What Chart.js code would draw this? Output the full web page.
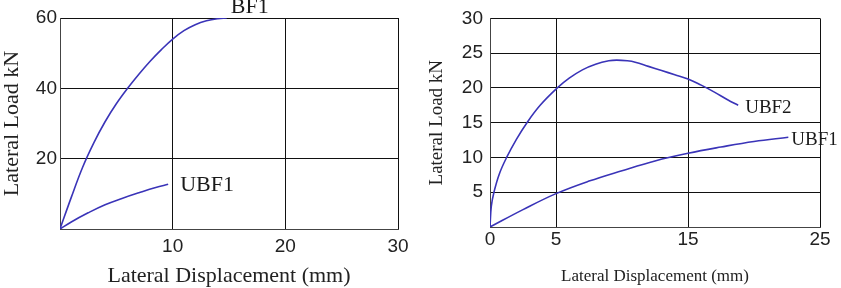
<!DOCTYPE html>
<html>
<head>
<meta charset="utf-8">
<script src="https://cdn.jsdelivr.net/npm/chart.js@4.4.0/dist/chart.umd.min.js"></script>
<style>
  body { margin: 0; background: #fff; }
  canvas { position: absolute; top: 0; }
</style>
</head>
<body>
<canvas id="left" width="420" height="288" style="left:0"></canvas>
<canvas id="right" width="421" height="288" style="left:420px"></canvas>
<script>
// left panel
var bf1X = [0, 1, 2, 3, 4, 5, 6, 7, 8, 9, 10, 11, 12, 13, 14, 14.8];
var bf1Y = [0, 9, 17.5, 24.5, 30.5, 35.6, 40, 44, 47.7, 51, 54, 56.4, 58.1, 59.2, 59.8, 60];
var ubf1aX = [0, 1, 2.5, 4, 5.5, 7, 8.5, 9.6];
var ubf1aY = [0, 2, 4.6, 6.9, 8.7, 10.3, 11.8, 12.7];
// right panel
var ubf2X = [0, 0.1, 0.3, 0.7, 1.26, 2, 2.8, 3.8, 5.1, 6, 7, 8, 9, 9.6, 10.4, 11, 12, 13, 14, 15, 16, 17, 18, 18.8];
var ubf2Y = [0, 3, 5, 7.6, 10, 12.6, 15, 17.5, 20, 21.4, 22.6, 23.4, 23.9, 24, 23.9, 23.7, 23.1, 22.5, 21.9, 21.3, 20.4, 19.4, 18.3, 17.5];
var ubf1bX = [0, 2.5, 5, 7.5, 10, 12.5, 15, 17.5, 20, 22.6];
var ubf1bY = [0, 2.5, 4.8, 6.6, 8.1, 9.5, 10.6, 11.5, 12.3, 12.9];
var rightXTicks = [0, 5, 15, 25];

var LINE = '#3a34b8';
var GRID = '#111';
var SERIF = '"Liberation Serif", "Times New Roman", serif';
var SANS = '"Liberation Sans", Arial, sans-serif';

function pts(xs, ys) {
  return xs.map(function (x, i) { return { x: x, y: ys[i] }; });
}

function series(label, xs, ys) {
  return {
    label: label,
    data: pts(xs, ys),
    borderColor: LINE,
    borderWidth: 1.6,
    pointRadius: 0,
    fill: false,
    tension: 0.4
  };
}

// writes the series name next to the end of each curve
var seriesLabels = {
  id: 'seriesLabels',
  afterDatasetsDraw: function (chart, args, opts) {
    var ctx = chart.ctx;
    opts.items.forEach(function (it) {
      var meta = chart.getDatasetMeta(it.index);
      var pt = meta.data[meta.data.length - 1];
      ctx.save();
      ctx.font = it.size + 'px ' + SERIF;
      ctx.fillStyle = '#1a1a1a';
      ctx.textBaseline = 'middle';
      ctx.fillText(chart.data.datasets[it.index].label, pt.x + it.dx, pt.y + it.dy);
      ctx.restore();
    });
  }
};

Chart.defaults.color = '#222';

new Chart(document.getElementById('left'), {
  type: 'line',
  data: {
    datasets: [series('BF1', bf1X, bf1Y), series('UBF1', ubf1aX, ubf1aY)]
  },
  plugins: [seriesLabels],
  options: {
    responsive: false,
    animation: false,
    devicePixelRatio: 1,
    layout: { padding: { top: 18, right: 22, left: 0, bottom: 0 } },
    plugins: {
      legend: { display: false },
      tooltip: { enabled: false },
      seriesLabels: {
        items: [
          { index: 0, dx: 4, dy: -11, size: 22 },
          { index: 1, dx: 12, dy: 1, size: 22 }
        ]
      }
    },
    scales: {
      x: {
        type: 'linear',
        min: 0, max: 30,
        afterFit: function (s) { s.height = 59; },
        grid: { color: GRID, drawTicks: false },
        border: { color: '#444' },
        ticks: {
          stepSize: 10, padding: 6, maxRotation: 0,
          font: { family: SANS, size: 19 },
          callback: function (v) { return v === 0 ? '' : v; }
        },
        title: {
          display: true, text: 'Lateral Displacement (mm)',
          font: { family: SERIF, size: 22, lineHeight: 1.1 },
          padding: 0
        }
      },
      y: {
        min: 0, max: 60,
        afterFit: function (s) { s.width = 60; },
        grid: { color: GRID, drawTicks: false },
        border: { color: '#444' },
        ticks: {
          stepSize: 20, padding: 3,
          font: { family: SANS, size: 19 },
          callback: function (v) { return v === 0 ? '' : v; }
        },
        title: {
          display: true, text: 'Lateral Load kN',
          font: { family: SERIF, size: 22, lineHeight: 1.1 },
          padding: 0
        }
      }
    }
  }
});

new Chart(document.getElementById('right'), {
  type: 'line',
  data: {
    datasets: [series('UBF2', ubf2X, ubf2Y), series('UBF1', ubf1bX, ubf1bY)]
  },
  plugins: [seriesLabels],
  options: {
    responsive: false,
    animation: false,
    devicePixelRatio: 1,
    layout: { padding: { top: 9, right: 21, left: 0, bottom: 0 } },
    plugins: {
      legend: { display: false },
      tooltip: { enabled: false },
      seriesLabels: {
        items: [
          { index: 0, dx: 7, dy: 3, size: 19 },
          { index: 1, dx: 3, dy: 3, size: 19 }
        ]
      }
    },
    scales: {
      x: {
        type: 'linear',
        min: 0, max: 25,
        afterBuildTicks: function (s) {
          s.ticks = rightXTicks.map(function (v) { return { value: v }; });
        },
        afterFit: function (s) { s.height = 61; },
        grid: { color: GRID, drawTicks: false },
        border: { color: '#444' },
        ticks: {
          padding: 1, maxRotation: 0, autoSkip: false,
          font: { family: SANS, size: 19 }
        },
        title: {
          display: true, text: 'Lateral Displacement (mm)',
          font: { family: SERIF, size: 17, lineHeight: 1.2 },
          padding: { top: 0, bottom: 1 }
        }
      },
      y: {
        min: 0, max: 30,
        afterFit: function (s) { s.width = 70; },
        grid: { color: GRID, drawTicks: false },
        border: { color: '#444' },
        ticks: {
          stepSize: 5, padding: 7,
          font: { family: SANS, size: 19 },
          callback: function (v) { return v === 0 ? '' : v; }
        },
        title: {
          display: true, text: 'Lateral Load kN',
          font: { family: SERIF, size: 19, lineHeight: 1.2 },
          padding: { top: 6, bottom: 0 }
        }
      }
    }
  }
});
</script>
</body>
</html>
